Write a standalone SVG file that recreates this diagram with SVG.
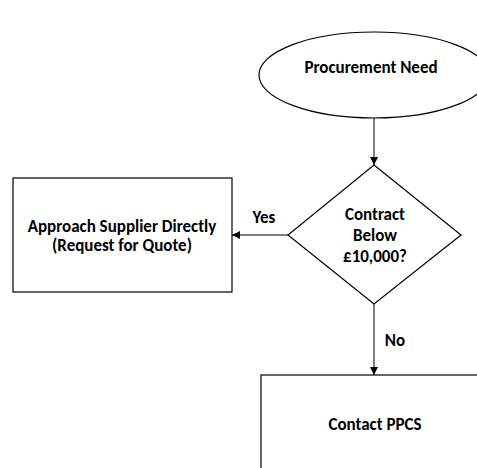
<svg xmlns="http://www.w3.org/2000/svg" width="477" height="468" viewBox="0 0 477 468">
  <style>
    .shape { fill: #ffffff; stroke: #000000; stroke-width: 1.2; }
    .edge { fill: none; stroke: #000000; stroke-width: 1; marker-end: url(#arrow); }
    .label { font-family: Carlito, Calibri, "Liberation Sans", Arial, sans-serif; font-weight: bold; font-size: 17px; fill: #000000; text-anchor: middle; }
  </style>
  <defs>
    <marker id="arrow" viewBox="0 0 10 10" refX="10" refY="5" markerWidth="8" markerHeight="8" markerUnits="userSpaceOnUse" orient="auto">
      <path d="M0,0 L10,5 L0,10 Z" fill="#000000"/>
    </marker>
  </defs>
  <rect width="477" height="468" fill="#ffffff"/>

  <g id="connectors">
    <line class="edge" x1="374" y1="118" x2="374" y2="165"/>
    <line class="edge" x1="288" y1="235" x2="232" y2="235"/>
    <line class="edge" x1="374" y1="304" x2="374" y2="375"/>
    <text class="label" x="264" y="223">Yes</text>
    <text class="label" x="395" y="346">No</text>
  </g>

  <g id="procurement-need">
    <ellipse class="shape" cx="374" cy="75" rx="115" ry="43"/>
    <text class="label" x="371" y="73">Procurement Need</text>
  </g>

  <g id="contract-below">
    <polygon class="shape" points="374,165 461,235 374,304 288,235"/>
    <text class="label" x="375" y="219.5">Contract</text>
    <text class="label" x="375" y="240.5">Below</text>
    <text class="label" x="375" y="261.5">£10,000?</text>
  </g>

  <g id="approach-supplier">
    <rect class="shape" x="13" y="178" width="219" height="114"/>
    <text class="label" x="122" y="232">Approach Supplier Directly</text>
    <text class="label" x="122" y="251">(Request for Quote)</text>
  </g>

  <g id="contact-ppcs">
    <rect class="shape" x="261" y="375" width="226" height="110"/>
    <text class="label" x="375" y="430">Contact PPCS</text>
  </g>
</svg>
